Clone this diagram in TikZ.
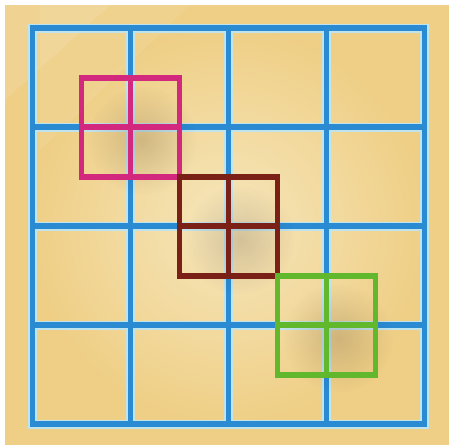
\documentclass[tikz,border=0pt]{standalone}
\usetikzlibrary{calc,fadings}
\definecolor{bgtan}{HTML}{EFCF86}
\definecolor{bglight}{HTML}{F6E6BC}
\definecolor{gridblue}{HTML}{2A8AD2}
\definecolor{halo}{HTML}{BFE4EE}
\definecolor{sqpink}{HTML}{D2287E}
\definecolor{sqbrown}{HTML}{7A2016}
\definecolor{sqgreen}{HTML}{62B82C}
\tikzfading[name=softshadowfade, inner color=transparent!82, outer color=transparent!100]
\tikzset{
  gridline/.style={draw=gridblue, line width=5.5pt, line cap=rect},
  gridhalo/.style={draw=halo, line width=9pt, line cap=rect},
  bigsq/.style={line width=5.5pt, line cap=rect, line join=miter},
  softshadow/.style={fill=black!70!brown, path fading=softshadowfade},
}
\begin{document}
\begin{tikzpicture}[x=1pt,y=-1pt]
\useasboundingbox (0,0) rectangle (449,447);
\fill[white] (0,0) rectangle (449,447);
\fill[bgtan] (5,5) rectangle (449,445);
\shade[inner color=bglight, outer color=bgtan] (32,28) rectangle (425,424);
\fill[white, opacity=0.10] (5,5) -- (110,5) -- (5,100) -- cycle;
\fill[white, opacity=0.08] (40,5) -- (190,5) -- (40,150) -- cycle;
% halo
\foreach \x in {32.5,130.5,228.5,326.5,424.5}
  \draw[gridhalo] (\x,28) -- (\x,424);
\foreach \y in {28,127,226,325,424}
  \draw[gridhalo] (32.5,\y) -- (424.5,\y);
% grid
\foreach \x in {32.5,130.5,228.5,326.5,424.5}
  \draw[gridline] (\x,28) -- (\x,424);
\foreach \y in {28,127,226,325,424}
  \draw[gridline] (32.5,\y) -- (424.5,\y);
% subtle shadows
\fill[softshadow] (142,140) circle (55);
\fill[softshadow] (240,240) circle (55);
\fill[softshadow] (338,338) circle (55);
% squares
\draw[bigsq, draw=sqpink] (81.5,78) rectangle (179.5,177);
\draw[bigsq, draw=sqpink] (130.5,78) -- (130.5,177) (81.5,127) -- (179.5,127);
\draw[bigsq, draw=sqbrown] (179.5,177) rectangle (277.5,276);
\draw[bigsq, draw=sqbrown] (228.5,177) -- (228.5,276) (179.5,226) -- (277.5,226);
\draw[bigsq, draw=sqgreen] (277.5,276) rectangle (375.5,375);
\draw[bigsq, draw=sqgreen] (326.5,276) -- (326.5,375) (277.5,325) -- (375.5,325);
\end{tikzpicture}
\end{document}
